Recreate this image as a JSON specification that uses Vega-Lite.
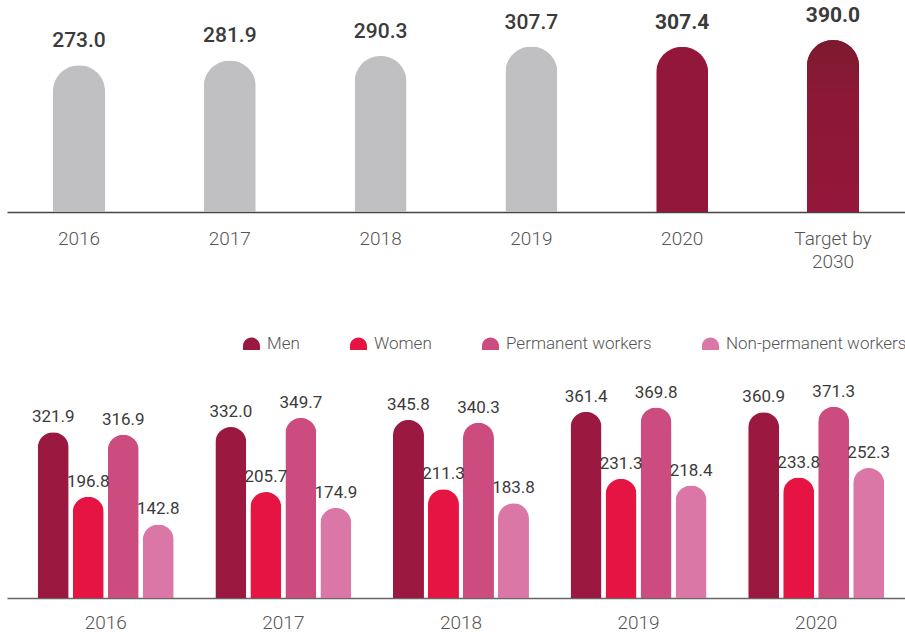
{
  "$schema": "https://vega.github.io/schema/vega-lite/v6.json",
  "padding": {"left": 7, "top": 5, "right": 0, "bottom": 0},
  "background": "white",
  "config": {
    "view": {"stroke": null},
    "font": "Roboto"
  },
  "datasets": {
    "totals": [
      {"year": "2016", "value": 273.0, "tone": "past"},
      {"year": "2017", "value": 281.9, "tone": "past"},
      {"year": "2018", "value": 290.3, "tone": "past"},
      {"year": "2019", "value": 307.7, "tone": "past"},
      {"year": "2020", "value": 307.4, "tone": "current"},
      {"year": "Target by 2030", "value": 390.0, "tone": "target"}
    ],
    "groups": [
      {"year": "2016", "group": "Men", "value": 321.9},
      {"year": "2016", "group": "Women", "value": 196.8},
      {"year": "2016", "group": "Permanent workers", "value": 316.9},
      {"year": "2016", "group": "Non-permanent workers", "value": 142.8},
      {"year": "2017", "group": "Men", "value": 332.0},
      {"year": "2017", "group": "Women", "value": 205.7},
      {"year": "2017", "group": "Permanent workers", "value": 349.7},
      {"year": "2017", "group": "Non-permanent workers", "value": 174.9},
      {"year": "2018", "group": "Men", "value": 345.8},
      {"year": "2018", "group": "Women", "value": 211.3},
      {"year": "2018", "group": "Permanent workers", "value": 340.3},
      {"year": "2018", "group": "Non-permanent workers", "value": 183.8},
      {"year": "2019", "group": "Men", "value": 361.4},
      {"year": "2019", "group": "Women", "value": 231.3},
      {"year": "2019", "group": "Permanent workers", "value": 369.8},
      {"year": "2019", "group": "Non-permanent workers", "value": 218.4},
      {"year": "2020", "group": "Men", "value": 360.9},
      {"year": "2020", "group": "Women", "value": 233.8},
      {"year": "2020", "group": "Permanent workers", "value": 371.3},
      {"year": "2020", "group": "Non-permanent workers", "value": 252.3}
    ]
  },
  "vconcat": [
    {
      "width": 898,
      "height": 172,
      "data": {"name": "totals"},
      "encoding": {
        "x": {
          "field": "year",
          "type": "nominal",
          "sort": null,
          "scale": {"paddingInner": 0.045, "paddingOuter": 0},
          "axis": {
            "title": null,
            "domainColor": "#444444",
            "domainWidth": 1.5,
            "ticks": false,
            "tickSize": 0,
            "labelAngle": 0,
            "labelFont": "Roboto",
            "labelFontWeight": 300,
            "labelFontSize": 19,
            "labelColor": "#555555",
            "labelPadding": 26,
            "labelBaseline": "middle",
            "labelLineHeight": 23,
            "labelExpr": "datum.label == 'Target by 2030' ? ['Target by', '2030'] : datum.label"
          }
        },
        "y": {
          "field": "value",
          "type": "quantitative",
          "scale": {"domain": [0, 320], "clamp": true},
          "axis": null
        }
      },
      "layer": [
        {
          "mark": {"type": "bar", "width": 52, "cornerRadiusTopLeft": 26, "cornerRadiusTopRight": 26},
          "encoding": {
            "color": {
              "field": "tone",
              "type": "nominal",
              "scale": {"domain": ["past", "current", "target"], "range": ["#c0c0c2", "#93173a", "#8e1837"]},
              "legend": null
            }
          }
        },
        {
          "transform": [{"filter": "datum.tone == 'target'"}],
          "mark": {
            "type": "bar",
            "width": 52,
            "cornerRadiusTopLeft": 26,
            "cornerRadiusTopRight": 26,
            "color": {
              "gradient": "linear",
              "x1": 0, "y1": 0, "x2": 0, "y2": 1,
              "stops": [
                {"offset": 0, "color": "#7c1a2f"},
                {"offset": 0.35, "color": "#8d1836"},
                {"offset": 1, "color": "#93173a"}
              ]
            }
          }
        },
        {
          "transform": [{"filter": "datum.tone == 'past'"}],
          "mark": {"type": "text", "baseline": "alphabetic", "dy": -18, "fontSize": 21, "fontWeight": 500, "color": "#3b3b3b"},
          "encoding": {"text": {"field": "value", "type": "quantitative", "format": ".1f"}}
        },
        {
          "transform": [{"filter": "datum.tone != 'past'"}],
          "mark": {"type": "text", "baseline": "alphabetic", "dy": -18, "fontSize": 21, "fontWeight": 700, "color": "#3b3b3b"},
          "encoding": {"text": {"field": "value", "type": "quantitative", "format": ".1f"}}
        }
      ]
    },
    {
      "width": 898,
      "height": 206,
      "data": {"name": "groups"},
      "encoding": {
        "x": {
          "field": "year",
          "type": "nominal",
          "sort": null,
          "scale": {"paddingInner": 0, "paddingOuter": 0.028, "align": 1},
          "axis": {
            "title": null,
            "domainColor": "#666666",
            "domainWidth": 1.5,
            "ticks": false,
            "tickSize": 0,
            "labelAngle": 0,
            "labelFont": "Roboto",
            "labelFontWeight": 300,
            "labelFontSize": 19,
            "labelColor": "#555555",
            "labelPadding": 24,
            "labelBaseline": "middle"
          }
        },
        "xOffset": {
          "field": "group",
          "type": "nominal",
          "sort": ["Men", "Women", "Permanent workers", "Non-permanent workers"],
          "scale": {"paddingInner": 0, "paddingOuter": 0.537}
        },
        "y": {
          "field": "value",
          "type": "quantitative",
          "scale": {"domain": [0, 400]},
          "axis": null
        }
      },
      "layer": [
        {
          "mark": {"type": "bar", "width": 31, "cornerRadiusTopLeft": 15.5, "cornerRadiusTopRight": 15.5},
          "encoding": {
            "color": {
              "field": "group",
              "type": "nominal",
              "sort": ["Men", "Women", "Permanent workers", "Non-permanent workers"],
              "scale": {
                "domain": ["Men", "Women", "Permanent workers", "Non-permanent workers"],
                "range": ["#9b1940", "#e61443", "#cc4c7f", "#da77a6"]
              },
              "legend": {
                "title": null,
                "orient": "none",
                "legendX": 236,
                "legendY": -57,
                "direction": "horizontal",
                "padding": 0,
                "symbolType": "M-1,0.735 L-1,0.265 A1,1 0 0 1 1,0.265 L1,0.735 Z",
                "symbolSize": 289,
                "symbolStrokeWidth": 0,
                "symbolOpacity": 1,
                "labelFont": "Roboto",
                "labelFontWeight": 300,
                "labelFontSize": 17,
                "labelColor": "#555555",
                "labelOffset": 7,
                "labelLimit": 300,
                "columnPadding": 50
              }
            }
          }
        },
        {
          "mark": {"type": "text", "baseline": "alphabetic", "dy": -10, "fontSize": 17, "fontWeight": 400, "color": "#3b3b3b"},
          "encoding": {"text": {"field": "value", "type": "quantitative", "format": ".1f"}}
        }
      ]
    }
  ],
  "spacing": 180,
  "bounds": "flush",
  "resolve": {"scale": {"x": "independent", "y": "independent", "color": "independent"}}
}
